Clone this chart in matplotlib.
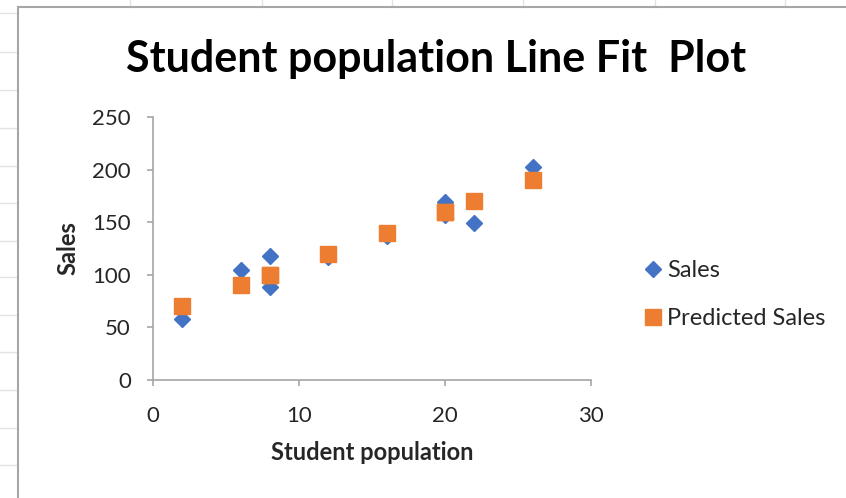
import matplotlib
matplotlib.use("Agg")
import matplotlib.pyplot as plt
from matplotlib.lines import Line2D

# student population (thousands) and quarterly sales
population = [2, 6, 8, 8, 12, 16, 20, 20, 22, 26]
sales = [58, 105, 88, 118, 117, 137, 157, 169, 149, 202]
predicted_sales = [70, 90, 100, 100, 120, 140, 160, 160, 170, 190]

x_ticks = [0, 10, 20, 30]
y_ticks = [0, 50, 100, 150, 200, 250]

plt.rcParams['font.family'] = ['Lato', 'DejaVu Sans']

W, H = 846, 498
fig = plt.figure(figsize=(W / 100, H / 100), dpi=100)

# spreadsheet grid behind the chart object
grid_col = '#e3e3e3'
for y in [13, 52, 90, 128, 166, 203, 241, 277, 315, 352, 390, 428, 465]:
    fig.add_artist(Line2D([0, 18 / W], [1 - y / H, 1 - y / H], color=grid_col, lw=1))
for x in [130, 262, 392, 523, 655, 785]:
    fig.add_artist(Line2D([x / W, x / W], [1, 1 - 7 / H], color=grid_col, lw=1))
# chart frame
fig.add_artist(Line2D([18 / W, 1], [1 - 7 / H, 1 - 7 / H], color='#a6a6a6', lw=1.5))
fig.add_artist(Line2D([18 / W, 18 / W], [0, 1 - 7 / H], color='#a6a6a6', lw=1.5))

ax = fig.add_axes([153 / W, 1 - 380 / H, (591 - 153) / W, (380 - 117) / H])
ax.plot(population, sales, linestyle='none', marker='D', ms=8.2,
        color='#4472C4', label='Sales')
ax.plot(population, predicted_sales, linestyle='none', marker='s', ms=12,
        color='#ED7D31', label='Predicted Sales')

ax.set_xlim(0, 30)
ax.set_ylim(0, 250)
ax.set_xticks(x_ticks)
ax.set_yticks(y_ticks)
for side in ['top', 'right']:
    ax.spines[side].set_visible(False)
for side in ['left', 'bottom']:
    ax.spines[side].set_color('#a6a6a6')
    ax.spines[side].set_linewidth(1.2)
ax.tick_params(direction='out', length=4, width=1.2, color='#a6a6a6',
               labelsize=16, labelcolor='#262626')
ax.tick_params(axis='y', pad=12)
ax.tick_params(axis='x', pad=15)

ax.set_xlabel('Student population', fontsize=17, fontweight='bold',
              color='#262626', va='center')
ax.xaxis.set_label_coords(0.5, (380 - 452) / 263)
ax.set_ylabel('Sales', fontsize=17, fontweight='bold', color='#262626',
              va='center')
ax.yaxis.set_label_coords((68 - 153) / 438, 0.5)

fig.text(436 / W, 1 - 72 / H, 'Student population Line Fit  Plot',
         fontsize=31, fontweight='bold', ha='center', va='baseline')

ax.legend(loc='center left', bbox_to_anchor=(1.094, 0.325), frameon=False,
          fontsize=17, handletextpad=0.12, labelspacing=1.15, borderaxespad=0,
          handlelength=0.95, labelcolor='#262626')

fig.savefig('out.png', dpi=100, facecolor='white')
